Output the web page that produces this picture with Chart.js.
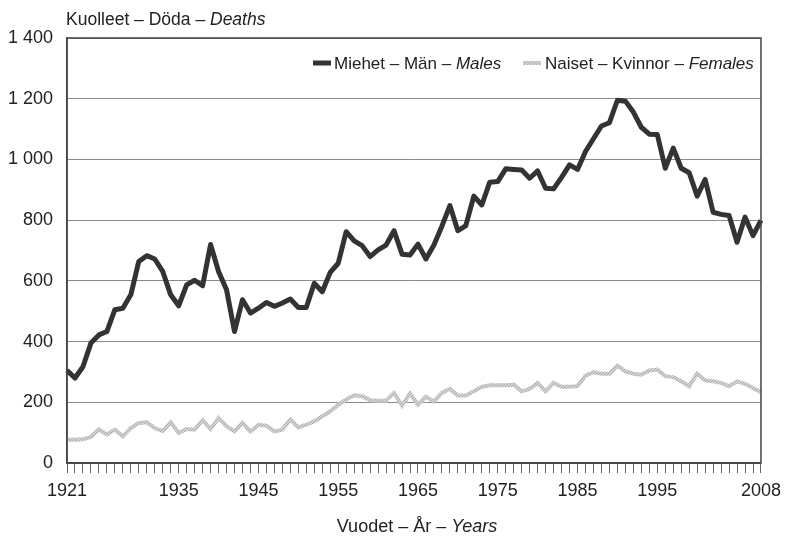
<!DOCTYPE html>
<html>
<head>
<meta charset="utf-8">
<script src="https://cdn.jsdelivr.net/npm/chart.js@4/dist/chart.umd.min.js"></script>
<style>
html,body{margin:0;padding:0;background:#fff;}
#wrap{width:788px;height:541px;position:relative;}
</style>
</head>
<body>
<div id="wrap"><canvas id="c" width="788" height="541"></canvas></div>
<script>
const years = [];
for (let y = 1921; y <= 2008; y++) years.push(String(y));

const shownYears = ['1921','1935','1945','1955','1965','1975','1985','1995','2008'];

const males = [
  305,280,317,395,422,433,505,510,554,664,
  683,672,631,554,518,587,602,584,720,631,
  571,433,538,494,510,529,516,527,540,512,
  512,592,564,628,658,762,732,716,680,702,
  718,765,688,685,721,672,718,780,848,765,
  782,879,850,925,927,969,967,965,938,962,
  905,903,941,982,967,1026,1068,1110,1121,1195,
  1192,1156,1106,1083,1082,971,1037,971,956,879,
  934,826,819,815,727,810,749,799
];

const females = [
  77,77,78,86,110,94,110,88,115,132,
  134,115,105,134,99,112,110,141,112,148,
  121,104,132,104,126,123,104,110,143,117,
  126,137,154,170,192,209,223,220,207,205,
  205,231,189,229,192,218,203,231,244,222,
  222,236,251,256,256,256,258,236,244,264,
  236,264,251,251,253,288,299,294,294,321,
  302,294,291,305,308,286,283,269,253,294,
  272,269,264,253,269,261,247,233
];

const yTicks = [0,200,400,600,800,1000,1200,1400];

const titleY = ['Kuolleet – Döda – ', 'Deaths'];
const titleX = ['Vuodet – År – ', 'Years'];
const legendMales = ['Miehet – Män – ', 'Males'];
const legendFemales = ['Naiset – Kvinnor – ', 'Females'];

const FONT = '"Liberation Sans", Arial, sans-serif';
const NARROW = '"Liberation Sans Narrow", "Arial Narrow", "Liberation Sans", sans-serif';

// textured light-gray pattern for the female line
function makePattern() {
  const pc = document.createElement('canvas');
  pc.width = 3; pc.height = 3;
  const p = pc.getContext('2d');
  p.fillStyle = '#d4d4d4'; p.fillRect(0,0,3,3);
  p.fillStyle = '#ababab';
  p.fillRect(0,0,1,1); p.fillRect(2,1,1,1); p.fillRect(1,2,1,1);
  return document.getElementById('c').getContext('2d').createPattern(pc, 'repeat');
}
const femPattern = makePattern();

function drawMixed(ctx, parts, x, y, size, family, align) {
  const f0 = size + 'px ' + family;
  const f1 = 'italic ' + size + 'px ' + family;
  ctx.font = f0; const w0 = ctx.measureText(parts[0]).width;
  ctx.font = f1; const w1 = ctx.measureText(parts[1]).width;
  let sx = x;
  if (align === 'center') sx = x - (w0 + w1) / 2;
  if (align === 'right') sx = x - (w0 + w1);
  ctx.textAlign = 'left';
  ctx.font = f0; ctx.fillText(parts[0], sx, y);
  ctx.font = f1; ctx.fillText(parts[1], sx + w0, y);
  return w0 + w1;
}

const decor = {
  id: 'decor',
  afterDraw(chart) {
    const ctx = chart.ctx;
    const a = chart.chartArea;
    ctx.save();
    // frame
    ctx.strokeStyle = '#444';
    ctx.lineWidth = 1.5;
    ctx.strokeRect(a.left, a.top, a.right - a.left, a.bottom - a.top);
    ctx.fillStyle = '#222';
    ctx.textBaseline = 'alphabetic';
    // y title
    drawMixed(ctx, titleY, 66, 25, 17.5, FONT, 'left');
    // x title
    drawMixed(ctx, titleX, 417, 532, 18, NARROW, 'center');
    // legend
    const ly = 63;
    ctx.lineCap = 'butt';
    ctx.strokeStyle = '#333';
    ctx.lineWidth = 5;
    ctx.beginPath(); ctx.moveTo(313, ly); ctx.lineTo(331, ly); ctx.stroke();
    ctx.fillStyle = '#222';
    drawMixed(ctx, legendMales, 334, ly + 6, 17, FONT, 'left');
    ctx.strokeStyle = femPattern;
    ctx.lineWidth = 4;
    ctx.beginPath(); ctx.moveTo(523, ly); ctx.lineTo(541, ly); ctx.stroke();
    ctx.fillStyle = '#222';
    drawMixed(ctx, legendFemales, 545, ly + 6, 17, FONT, 'left');
    ctx.restore();
  }
};

new Chart(document.getElementById('c'), {
  type: 'line',
  data: {
    labels: years,
    datasets: [
      {
        label: 'Naiset – Kvinnor – Females',
        data: females,
        borderColor: femPattern,
        borderWidth: 4,
        pointRadius: 0,
        tension: 0,
        fill: false,
        order: 2
      },
      {
        label: 'Miehet – Män – Males',
        data: males,
        borderColor: '#333333',
        borderWidth: 5,
        pointRadius: 0,
        tension: 0,
        fill: false,
        order: 1,
        borderJoinStyle: 'round'
      }
    ]
  },
  options: {
    responsive: false,
    animation: false,
    events: [],
    layout: { padding: { top: 38, right: 20, left: 0, bottom: 0 } },
    plugins: {
      legend: { display: false },
      tooltip: { enabled: false }
    },
    scales: {
      x: {
        type: 'category',
        offset: false,
        grid: {
          display: true,
          drawOnChartArea: false,
          drawTicks: true,
          tickLength: 10,
          color: '#666',
          lineWidth: 1
        },
        border: { display: true, color: '#444', width: 1.5 },
        ticks: {
          autoSkip: false,
          maxRotation: 0,
          minRotation: 0,
          padding: 7,
          color: '#222',
          font: { family: NARROW, size: 18 },
          callback: function(v, i) {
            const l = years[i];
            return shownYears.includes(l) ? l : '';
          }
        },
        afterFit(s) { s.height = 78; }
      },
      y: {
        min: 0,
        max: 1400,
        afterBuildTicks(s) { s.ticks = yTicks.map(v => ({ value: v })); },
        grid: { color: '#8a8a8a', lineWidth: 1, drawTicks: false },
        border: { display: true, color: '#444', width: 1.5 },
        ticks: {
          padding: 14,
          color: '#222',
          font: { family: FONT, size: 18 },
          callback: function(v) {
            const s = String(v);
            return s.length > 3 ? s.slice(0, s.length - 3) + ' ' + s.slice(-3) : s;
          }
        },
        afterFit(s) { s.width = 67; }
      }
    }
  },
  plugins: [decor]
});
</script>
</body>
</html>
